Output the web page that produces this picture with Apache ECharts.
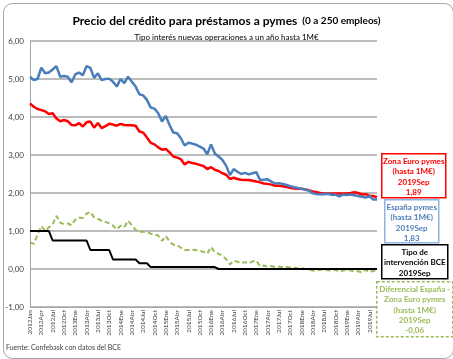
<!DOCTYPE html>
<html><head><meta charset="utf-8">
<script src="https://cdn.jsdelivr.net/npm/echarts@6/dist/echarts.min.js"></script>
<style>html,body{margin:0;padding:0;background:#fff}#c{width:453px;height:359px}</style>
</head><body><div id="c"></div>
<script>
const categories = [
"2012Jan","2012Feb","2012Mar","2012Apr","2012May","2012Jun","2012Jul","2012Aug","2012Sep","2012Oct","2012Nov","2012Dec",
"2013Ene","2013Feb","2013Mar","2013Abr","2013May","2013Jun","2013Jul","2013Ago","2013Sep","2013Oct","2013Nov","2013Dic",
"2014Ene","2014Feb","2014Mar","2014Abr","2014May","2014Jun","2014Jul","2014Ago","2014Sep","2014Oct","2014Nov","2014Dic",
"2015Ene","2015Feb","2015Mar","2015Abr","2015May","2015Jun","2015Jul","2015Ago","2015Sep","2015Oct","2015Nov","2015Dic",
"2016Ene","2016Feb","2016Mar","2016Abr","2016May","2016Jun","2016Jul","2016Ago","2016Sep","2016Oct","2016Nov","2016Dic",
"2017Ene","2017Feb","2017Mar","2017Abr","2017May","2017Jun","2017Jul","2017Ago","2017Sep","2017Oct","2017Nov","2017Dic",
"2018Ene","2018Feb","2018Mar","2018Abr","2018May","2018Jun","2018Jul","2018Ago","2018Sep","2018Oct","2018Nov","2018Dic",
"2019Ene","2019Feb","2019Mar","2019Abr","2019May","2019Jun","2019Jul","2019Ago","2019Sep"];

const espana = [5.06,4.97,5.00,5.30,5.15,5.17,5.25,5.34,5.06,5.08,
 5.06,4.91,5.12,5.17,5.10,5.34,5.29,5.03,5.15,4.97,
 5.00,5.01,4.93,4.80,5.00,4.89,5.06,4.93,4.80,4.60,
 4.57,4.45,4.25,4.22,4.10,3.88,4.03,3.79,3.59,3.57,
 3.44,3.25,3.32,3.30,3.27,3.22,3.17,3.02,3.28,3.04,
 2.96,2.87,2.72,2.47,2.63,2.56,2.50,2.53,2.49,2.52,
 2.55,2.34,2.35,2.36,2.30,2.25,2.26,2.24,2.21,2.18,
 2.15,2.13,2.11,2.09,2.06,1.99,1.97,1.97,1.97,1.98,
 1.95,1.96,1.91,1.96,1.95,1.96,1.94,1.92,1.90,1.88,
 1.92,1.83,1.83];

const zonaEuro = [4.36,4.27,4.21,4.18,4.15,4.08,4.10,3.96,3.89,3.92,
 3.89,3.79,3.78,3.84,3.75,3.86,3.88,3.72,3.84,3.71,
 3.76,3.82,3.80,3.77,3.82,3.79,3.78,3.78,3.77,3.62,
 3.59,3.46,3.32,3.28,3.20,3.14,3.16,3.07,2.96,2.93,
 2.89,2.75,2.82,2.79,2.77,2.74,2.71,2.63,2.68,2.61,
 2.58,2.52,2.48,2.37,2.40,2.37,2.35,2.34,2.34,2.32,
 2.30,2.28,2.25,2.24,2.22,2.19,2.19,2.18,2.16,2.14,
 2.12,2.11,2.11,2.09,2.07,2.04,2.02,2.00,1.99,1.99,
 1.99,1.99,1.99,1.99,1.99,2.00,2.02,2.00,1.96,1.97,
 1.93,1.92,1.89];

const bce = [1,1,1,1,1,1,
 0.75,0.75,0.75,0.75,0.75,0.75,0.75,0.75,0.75,0.75,
 0.5,0.5,0.5,0.5,0.5,0.5,
 0.25,0.25,0.25,0.25,0.25,0.25,0.25,
 0.15,0.15,0.15,
 0.05,0.05,0.05,0.05,0.05,0.05,0.05,0.05,0.05,0.05,0.05,0.05,0.05,0.05,0.05,0.05,0.05,0.05,
 0,0,0,0,0,0,0,0,0,0,0,0,0,0,0,0,0,0,0,0,0,0,0,0,0,0,0,0,0,0,0,0,0,0,0,0,0,0,0,0,0,0,0];

const diferencial = [0.70,0.66,0.90,1.13,1.00,1.10,1.17,1.40,1.22,1.18,
 1.20,1.15,1.30,1.35,1.34,1.46,1.50,1.36,1.32,1.27,
 1.24,1.20,1.14,1.04,1.14,1.10,1.27,1.15,1.03,0.98,
 0.98,0.97,0.93,0.91,0.88,0.74,0.87,0.72,0.64,0.63,
 0.56,0.50,0.50,0.51,0.50,0.48,0.45,0.40,0.58,0.44,
 0.40,0.35,0.26,0.12,0.22,0.19,0.16,0.18,0.15,0.20,
 0.22,0.07,0.09,0.06,0.08,0.05,0.06,0.05,0.05,0.04,
 0.03,0.02,0.02,0.00,-0.02,-0.04,-0.04,-0.02,-0.02,-0.03,
 -0.04,-0.02,-0.07,-0.04,-0.02,-0.04,-0.06,-0.06,-0.09,-0.02,
 -0.09,-0.04,-0.06];

const yTicks = {min:-1, max:6, interval:1};

const FF = 'Lato, "Liberation Sans", sans-serif';
const chart = echarts.init(document.getElementById('c'), null, {renderer:'canvas'});

function box(x, y, w, h, stroke, dash, lw, textColor, lines, lineH, fontSize) {
  return {
    type:'group', left:x, top:y,
    children:[
      {type:'rect', shape:{x:0,y:0,width:w,height:h}, style:{fill:'#fff', stroke:stroke, lineWidth:lw, lineDash:dash}},
      {type:'text', x:w/2, y:2.5, style:{text:lines.join('\n'), fill:textColor, align:'center', verticalAlign:'top',
        fontSize:fontSize, fontWeight:'bold', fontFamily:FF, lineHeight:lineH}}
    ]
  };
}

chart.setOption({
  animation:false,
  backgroundColor:'#fff',
  title:{
    left:'center', top:7, itemGap:3,
    text:'{a|Precio del crédito para préstamos a pymes} {b|(0 a 250 empleos)}',
    textStyle:{rich:{
      a:{fontSize:12, fontWeight:'bold', fontFamily:FF, color:'#000'},
      b:{fontSize:10, fontWeight:'bold', fontFamily:FF, color:'#000'}
    }},
    subtext:'Tipo interés nuevas operaciones a un año hasta 1M€',
    subtextStyle:{fontSize:8, color:'#000', fontFamily:FF}
  },
  grid:{left:30, right:76, top:41, bottom:52, containLabel:false},
  xAxis:{
    type:'category', data:categories, boundaryGap:false,
    axisLine:{onZero:false, lineStyle:{color:'#a6a6a6', width:1}},
    axisTick:{show:false},
    axisLabel:{interval:2, rotate:90, fontSize:6.5, color:'#404040', fontFamily:FF, margin:3},
    splitLine:{show:false}
  },
  yAxis:{
    type:'value', min:yTicks.min, max:yTicks.max, interval:yTicks.interval,
    axisLine:{show:true, lineStyle:{color:'#a6a6a6', width:1}},
    axisTick:{show:false},
    axisLabel:{fontSize:8, color:'#404040', fontFamily:FF, margin:6,
      formatter:v=>v.toFixed(2).replace('.',',')},
    splitLine:{lineStyle:{color:'#a6a6a6', width:1.5}}
  },
  series:[
    {name:'Diferencial', type:'line', data:diferencial, symbol:'none', z:2,
      lineStyle:{color:'#9bbb59', width:2, type:[5,3]}},
    {name:'BCE', type:'line', data:bce, symbol:'none', z:3,
      lineStyle:{color:'#000', width:2}},
    {name:'Zona Euro', type:'line', data:zonaEuro, symbol:'none', z:4,
      lineStyle:{color:'#ff0000', width:2.5}},
    {name:'España', type:'line', data:espana, symbol:'none', z:5,
      lineStyle:{color:'#4a7ebb', width:2.5}}
  ],
  graphic:[
    {type:'rect', left:1, top:1, z:-10, shape:{x:0,y:0,width:450,height:355,r:9},
      style:{fill:'none', stroke:'#a6a6a6', lineWidth:1}},
    {type:'text', left:6, top:344, style:{text:'Fuente: Confebask con datos del BCE', fill:'#404040', fontSize:7, fontFamily:FF}},
    box(381, 153, 64, 44, '#ff0000', null, 1.5, '#ff0000', ['Zona Euro pymes','(hasta 1M€)','2019Sep','1,89'], 10.3, 8),
    box(384, 199, 54, 43, '#8eb4e3', null, 1.5, '#4a7ebb', ['España pymes','(hasta 1M€)','2019Sep','1,83'], 10.3, 8),
    box(381, 244, 66, 34, '#000', null, 1.5, '#000', ['Tipo de','intervención BCE','2019Sep'], 10.3, 8),
    box(376, 281, 76, 55, '#9bbb59', [3,2], 1.5, '#9bbb59', ['Diferencial España -','Zona Euro pymes','(hasta 1M€)','2019Sep','-0,06'], 10.3, 8)
  ]
});
</script></body></html>
